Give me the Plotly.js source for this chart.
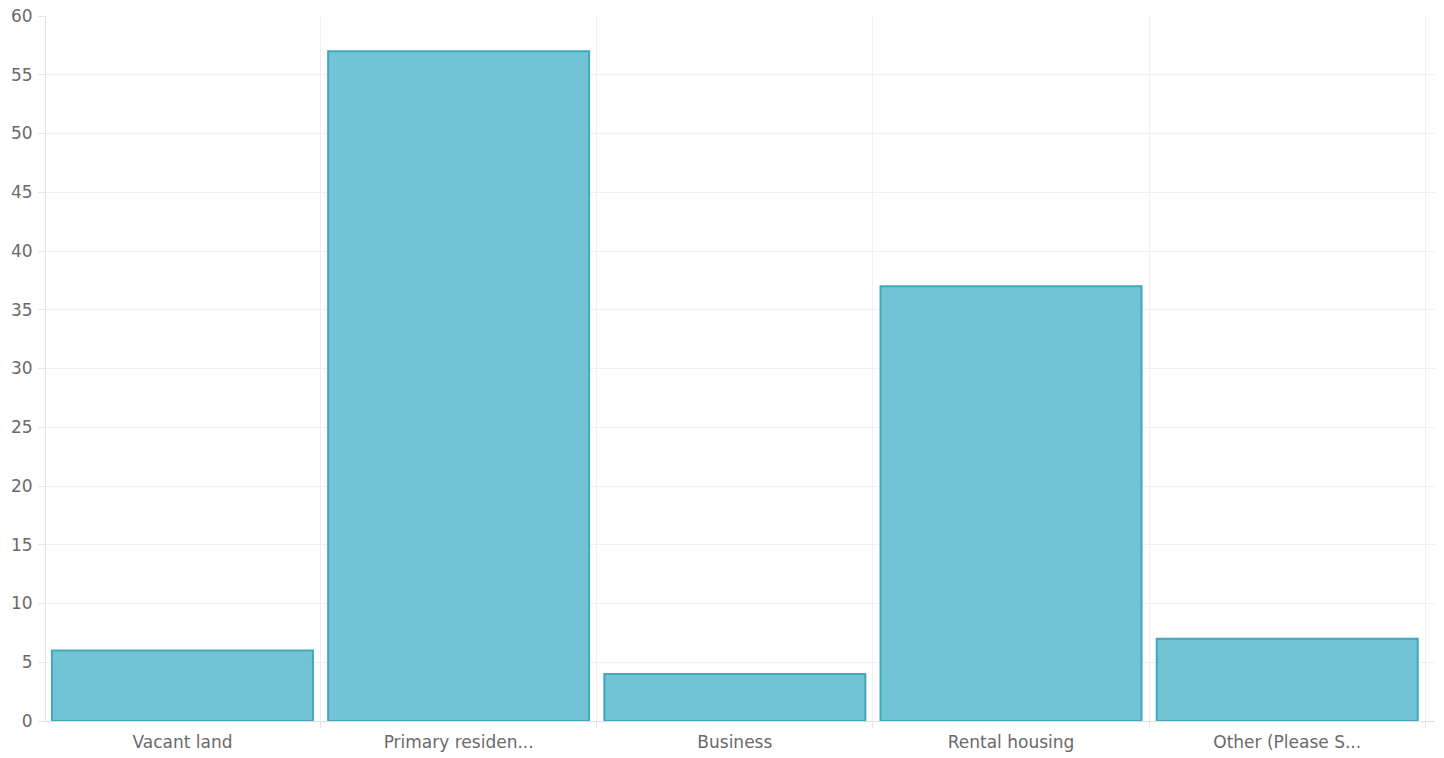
<!DOCTYPE html>
<html><head><meta charset="utf-8">
<script src="https://cdn.plot.ly/plotly-3.0.1.min.js"></script>
<style>html,body{margin:0;padding:0;background:#fff;}#chart{width:1444px;height:758px;}</style>
</head><body><div id="chart"></div>
<script>
const categories = ["Vacant land", "Primary residen...", "Business", "Rental housing", "Other (Please S..."];
const counts = [6, 57, 4, 37, 7];

const trace = {
  type: "bar",
  x: categories,
  y: counts,
  marker: { color: "rgba(92,188,208,0.88)", line: { color: "#42a8bb", width: 2 } },
  hoverinfo: "x+y"
};
const layout = {
  width: 1444, height: 758,
  margin: { l: 46, r: 9, t: 16, b: 37 },
  paper_bgcolor: "#fff", plot_bgcolor: "#fff",
  bargap: 0.055,
  showlegend: false,
  font: { family: "DejaVu Sans, sans-serif", size: 17, color: "#6a6a6a" },
  xaxis: {
    type: "category", range: [-0.494, 4.535], automargin: false,
    tickson: "boundaries", ticks: "outside", ticklen: 6, tickcolor: "#e6e6e6",
    showgrid: true, gridcolor: "#f0f0f0", gridwidth: 1,
    showline: true, linecolor: "#e0e0e0", linewidth: 1,
    tickfont: { size: 17, color: "#6a6a6a" }, zeroline: false,
    ticklabelstandoff: 6
  },
  yaxis: {
    range: [0, 60], dtick: 5, ticks: "outside", ticklen: 7, tickcolor: "#e6e6e6",
    showgrid: true, gridcolor: "#f0f0f0", gridwidth: 1, automargin: false,
    showline: true, linecolor: "#e6e6e6", linewidth: 1,
    zeroline: false, tickfont: { size: 17, color: "#6a6a6a" }, ticklabelstandoff: 2
  }
};
Plotly.newPlot("chart", [trace], layout, { displayModeBar: false });
</script></body></html>
